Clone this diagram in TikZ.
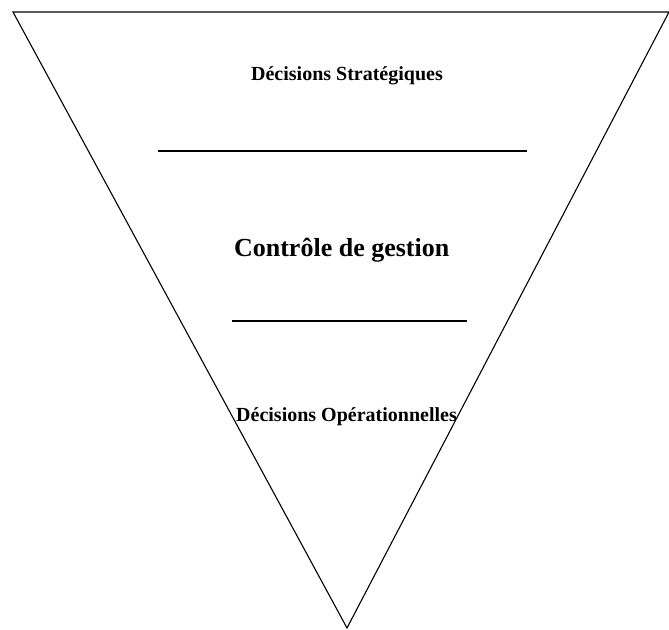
\documentclass[tikz,border=0pt]{standalone}
\usepackage{fontspec}
\setmainfont{Liberation Serif}
\begin{document}
\begin{tikzpicture}[x=1pt,y=-1pt,
  lbl/.style={font=\bfseries\fontsize{20}{24}\selectfont, inner sep=0pt, anchor=base},
  big/.style={font=\bfseries\fontsize{26}{30}\selectfont, inner sep=0pt, anchor=base},
  edge/.style={line width=1.1pt}]
\useasboundingbox (0,0) rectangle (669,629);
\coordinate (tl) at (13,12);
\coordinate (tr) at (669,12);
\coordinate (ap) at (347,628);
\draw[edge, line join=miter] (tl) -- (tr) -- (ap) -- cycle;
\coordinate (a1) at (158,151);
\coordinate (a2) at (527,151);
\coordinate (b1) at (232,321);
\coordinate (b2) at (467,321);
\draw[edge] (a1) -- (a2);
\draw[edge] (b1) -- (b2);
\node[lbl] (ds) at (347,80.7) {Décisions Stratégiques};
\node[big] (cg) at (341.7,256) {Contrôle de gestion};
\node[lbl] (do) at (346.5,421.5) {Décisions Opérationnelles};
\end{tikzpicture}
\end{document}
